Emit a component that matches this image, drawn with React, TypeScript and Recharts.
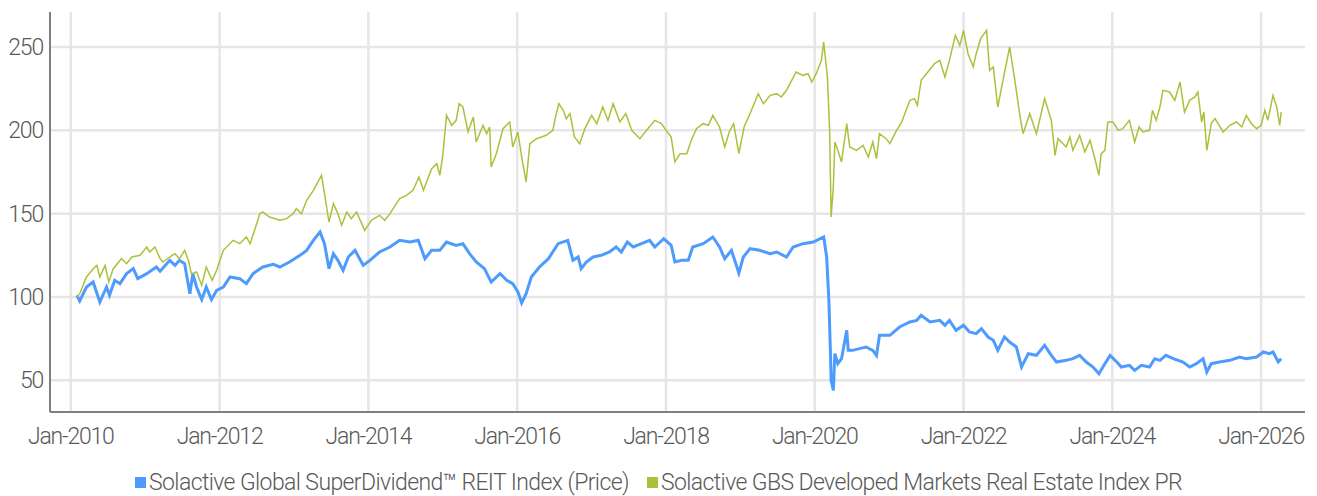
import React from "react";
import { LineChart, Line, XAxis, YAxis, CartesianGrid, Legend } from "recharts";

const FONT = "Roboto, 'Noto Sans', sans-serif";

const yearTicks = [2010, 2012, 2014, 2016, 2018, 2020, 2022, 2024, 2026];
const valueTicks = [50, 100, 150, 200, 250];

// Solactive Global SuperDividend REIT Index (Price), decimal years
const reitDates = [
  2010.08, 2010.12, 2010.21, 2010.3, 2010.39, 2010.48, 2010.52, 2010.59, 2010.66, 2010.75,
  2010.84, 2010.9, 2011.02, 2011.15, 2011.2, 2011.33, 2011.4, 2011.46, 2011.53, 2011.6,
  2011.64, 2011.69, 2011.76, 2011.82, 2011.89, 2011.96, 2012.05, 2012.14, 2012.27, 2012.36,
  2012.45, 2012.58, 2012.72, 2012.81, 2012.94, 2013.08, 2013.17, 2013.26, 2013.35, 2013.41,
  2013.47, 2013.53, 2013.59, 2013.66, 2013.73, 2013.82, 2013.93, 2014.02, 2014.15, 2014.29,
  2014.42, 2014.56, 2014.67, 2014.76, 2014.85, 2014.96, 2015.05, 2015.18, 2015.27, 2015.36,
  2015.45, 2015.56, 2015.65, 2015.77, 2015.86, 2015.94, 2016.01, 2016.06, 2016.12, 2016.19,
  2016.3, 2016.42, 2016.55, 2016.68, 2016.75, 2016.82, 2016.86, 2016.93, 2017.02, 2017.13,
  2017.24, 2017.33, 2017.4, 2017.48, 2017.56, 2017.67, 2017.78, 2017.85, 2017.97, 2018.07,
  2018.12, 2018.21, 2018.3, 2018.36, 2018.5, 2018.63, 2018.72, 2018.79, 2018.88, 2018.98,
  2019.04, 2019.13, 2019.26, 2019.4, 2019.49, 2019.62, 2019.71, 2019.84, 2019.98, 2020.12,
  2020.16, 2020.19, 2020.21, 2020.22, 2020.25, 2020.27, 2020.31, 2020.36, 2020.43, 2020.45,
  2020.51, 2020.6, 2020.69, 2020.78, 2020.83, 2020.87, 2021.01, 2021.14, 2021.28, 2021.37,
  2021.43, 2021.55, 2021.68, 2021.75, 2021.81, 2021.9, 2022.0, 2022.08, 2022.17, 2022.24,
  2022.33, 2022.4, 2022.46, 2022.55, 2022.62, 2022.71, 2022.78, 2022.87, 2022.98, 2023.09,
  2023.18, 2023.25, 2023.38, 2023.47, 2023.56, 2023.65, 2023.74, 2023.82, 2023.9, 2023.97,
  2024.06, 2024.12, 2024.23, 2024.3, 2024.39, 2024.5, 2024.57, 2024.64, 2024.72, 2024.82,
  2024.95, 2025.04, 2025.13, 2025.22, 2025.27, 2025.33, 2025.44, 2025.58, 2025.71, 2025.8,
  2025.94, 2026.03, 2026.11, 2026.16, 2026.23, 2026.27,
];
const reitValues = [
  101, 97.6, 106, 109, 97, 106, 101, 110, 108, 114,
  117, 111, 114, 118, 115.5, 122, 119, 122, 120, 102,
  114, 106, 98.4, 106, 98.4, 104, 106, 112, 111, 108,
  114, 118, 119.6, 118, 121, 125, 128, 134, 139, 132,
  117, 126, 122, 116, 124, 128, 119, 122, 127, 130,
  134, 133, 134, 123, 128, 128, 133, 131, 132, 126,
  121, 117, 109, 114, 110, 108, 103, 96.4, 102, 112,
  118, 123, 132, 134, 122, 124, 117, 121, 124, 125,
  127, 130, 127, 133, 130, 132, 134, 130, 135, 131,
  121, 122, 122, 130, 132, 136, 130, 123, 128, 114.4,
  124, 129, 128, 126, 127, 124, 130, 132, 133, 136,
  124, 98, 68, 50, 44, 66, 60, 63, 80, 68,
  68, 69, 70, 68, 65, 77, 77, 82, 85, 86,
  89, 85, 86, 83, 86, 80, 83, 79, 78, 81,
  76, 74, 68, 76, 73, 70, 58, 66, 65, 71,
  65, 61, 62, 63, 65, 61, 58, 54, 60, 65,
  61, 58, 59, 56, 59, 58, 63, 62, 65, 63,
  61, 58, 60, 63, 55, 60, 61, 62, 64, 63,
  64, 67, 66, 67, 61, 63,
];

// Solactive GBS Developed Markets Real Estate Index PR, decimal years
const gbsDates = [
  2010.08, 2010.12, 2010.21, 2010.3, 2010.35, 2010.39, 2010.46, 2010.51, 2010.57, 2010.68,
  2010.75, 2010.82, 2010.93, 2011.02, 2011.06, 2011.13, 2011.2, 2011.24, 2011.33, 2011.4,
  2011.46, 2011.53, 2011.58, 2011.62, 2011.69, 2011.76, 2011.82, 2011.9, 2011.96, 2012.05,
  2012.18, 2012.27, 2012.36, 2012.41, 2012.47, 2012.54, 2012.58, 2012.67, 2012.81, 2012.9,
  2012.99, 2013.03, 2013.1, 2013.17, 2013.26, 2013.37, 2013.41, 2013.47, 2013.53, 2013.59,
  2013.64, 2013.71, 2013.77, 2013.84, 2013.95, 2014.04, 2014.15, 2014.22, 2014.29, 2014.42,
  2014.51, 2014.6, 2014.68, 2014.74, 2014.85, 2014.92, 2014.96, 2015.0, 2015.05, 2015.12,
  2015.18, 2015.22, 2015.27, 2015.34, 2015.41, 2015.45, 2015.54, 2015.59, 2015.63, 2015.65,
  2015.72, 2015.81, 2015.9, 2015.94, 2016.01, 2016.06, 2016.12, 2016.17, 2016.26, 2016.39,
  2016.48, 2016.51, 2016.56, 2016.62, 2016.66, 2016.71, 2016.77, 2016.84, 2016.91, 2017.0,
  2017.07, 2017.15, 2017.22, 2017.29, 2017.38, 2017.46, 2017.54, 2017.65, 2017.74, 2017.85,
  2017.94, 2018.0, 2018.07, 2018.12, 2018.19, 2018.28, 2018.34, 2018.41, 2018.5, 2018.57,
  2018.63, 2018.72, 2018.79, 2018.85, 2018.91, 2018.98, 2019.05, 2019.13, 2019.24, 2019.31,
  2019.4, 2019.49, 2019.55, 2019.62, 2019.69, 2019.75, 2019.84, 2019.91, 2019.96, 2020.02,
  2020.09, 2020.12, 2020.17, 2020.2, 2020.21, 2020.22, 2020.25, 2020.27, 2020.31, 2020.36,
  2020.43, 2020.47, 2020.56, 2020.65, 2020.72, 2020.78, 2020.83, 2020.87, 2020.96, 2021.01,
  2021.1, 2021.17, 2021.21, 2021.28, 2021.34, 2021.38, 2021.43, 2021.52, 2021.61, 2021.68,
  2021.75, 2021.81, 2021.89, 2021.95, 2022.0, 2022.06, 2022.13, 2022.17, 2022.23, 2022.31,
  2022.35, 2022.4, 2022.46, 2022.53, 2022.62, 2022.69, 2022.76, 2022.8, 2022.89, 2022.98,
  2023.09, 2023.18, 2023.23, 2023.27, 2023.38, 2023.43, 2023.47, 2023.56, 2023.63, 2023.7,
  2023.76, 2023.82, 2023.85, 2023.9, 2023.94, 2024.01, 2024.08, 2024.14, 2024.23, 2024.3,
  2024.36, 2024.41, 2024.5, 2024.54, 2024.59, 2024.64, 2024.68, 2024.77, 2024.84, 2024.91,
  2024.97, 2025.04, 2025.11, 2025.15, 2025.2, 2025.23, 2025.27, 2025.33, 2025.38, 2025.49,
  2025.58, 2025.67, 2025.74, 2025.8, 2025.87, 2025.94, 2026.0, 2026.05, 2026.09, 2026.16,
  2026.21, 2026.25, 2026.27,
];
const gbsValues = [
  100, 102, 112, 117, 119, 112, 119, 109, 117, 123,
  120, 124, 125, 130, 127, 130, 123, 121, 124, 126,
  123, 128, 122, 114, 115, 107, 118, 110, 116, 128,
  134, 132, 136, 132, 140, 150, 151, 148, 146, 147,
  150, 153, 150, 158, 164, 173, 162, 145, 156, 150,
  143, 151, 147, 151, 140, 146, 149, 146, 150, 159,
  161, 164, 172, 164, 177, 180, 173, 185, 209, 203,
  206, 216, 214, 199, 208, 193, 203, 198, 202, 178,
  186, 201, 205, 190, 199, 184, 169, 192, 195, 197,
  200, 207, 216, 212, 207, 210, 196, 192, 201, 209,
  204, 214, 206, 216, 205, 210, 200, 195, 200, 206,
  204, 200, 196, 181, 186, 186, 194, 201, 204, 203,
  209, 202, 190, 199, 204, 186, 202, 210, 222, 216,
  221, 222, 220, 224, 230, 235, 233, 234, 229, 234,
  242, 253, 232, 200, 174, 148, 166, 193, 188, 181,
  204, 190, 188, 191, 184, 193, 183, 198, 195, 192,
  200, 205, 210, 218, 219, 215, 230, 235, 240, 242,
  232, 242, 257, 251, 260, 246, 238, 246, 255, 260,
  236, 238, 214, 230, 250, 230, 208, 198, 210, 198,
  219, 206, 185, 195, 190, 196, 188, 197, 187, 194,
  184, 173, 186, 188, 205, 205, 200, 201, 206, 193,
  202, 199, 200, 212, 206, 214, 224, 223, 218, 229,
  211, 218, 220, 223, 205, 211, 188, 204, 207, 199,
  203, 205, 202, 209, 204, 201, 203, 212, 206, 221,
  214, 203, 211,
];

const reitData = reitDates.map((d, i) => ({ date: d, value: reitValues[i] }));
const gbsData = gbsDates.map((d, i) => ({ date: d, value: gbsValues[i] }));

const REIT_NAME = "Solactive Global SuperDividend™ REIT Index (Price)";
const GBS_NAME = "Solactive GBS Developed Markets Real Estate Index PR";
const REIT_COLOR = "#4d9bfc";
const GBS_COLOR = "#a9c23c";
const legendOrder = [REIT_NAME, GBS_NAME];

const tickStyle = { fill: "#595959", fontSize: 23, fontFamily: FONT, fontWeight: 300, letterSpacing: -1.2 };

const renderLegend = (props: any) => {
  const { payload = [] } = props;
  const items = [...payload].sort((a: any, b: any) => legendOrder.indexOf(a.value) - legendOrder.indexOf(b.value));
  return (
    <div
      style={{
        display: "flex",
        justifyContent: "center",
        alignItems: "center",
        height: 28,
        paddingLeft: 22,
        fontFamily: FONT,
        fontWeight: 300,
        fontSize: 23,
        letterSpacing: -0.6,
        color: "#595959",
      }}
    >
      {items.map((entry: any) => (
        <span key={entry.value} style={{ display: "flex", alignItems: "center", marginRight: 18 }}>
          <span style={{ display: "inline-block", width: 11, height: 11, background: entry.color, marginRight: 3 }} />
          {entry.value}
        </span>
      ))}
    </div>
  );
};

export default function App() {
  return (
    <LineChart width={1309} height={488} margin={{ top: 4, right: 12, bottom: 0, left: 0 }}>
      <CartesianGrid stroke="#e6e6e6" strokeWidth={2.5} syncWithTicks />
      <XAxis
        dataKey="date"
        type="number"
        domain={[2009.72, 2026.59]}
        ticks={yearTicks}
        tickFormatter={(v) => `Jan-${v}`}
        allowDataOverflow
        height={56}
        tick={tickStyle}
        tickLine={false}
        tickMargin={10}
        axisLine={{ stroke: "#7f7f7f", strokeWidth: 2 }}
      />
      <YAxis
        type="number"
        domain={[31, 271]}
        ticks={valueTicks}
        allowDataOverflow
        width={42}
        tick={tickStyle}
        tickLine={false}
        tickMargin={1}
        axisLine={{ stroke: "#7f7f7f", strokeWidth: 2 }}
      />
      <Legend verticalAlign="bottom" content={renderLegend} />
      <Line
        data={reitData}
        dataKey="value"
        name={REIT_NAME}
        stroke={REIT_COLOR}
        strokeWidth={3}
        dot={false}
        activeDot={false}
        isAnimationActive={false}
      />
      <Line
        data={gbsData}
        dataKey="value"
        name={GBS_NAME}
        stroke={GBS_COLOR}
        strokeWidth={1.5}
        dot={false}
        activeDot={false}
        isAnimationActive={false}
      />
    </LineChart>
  );
}
